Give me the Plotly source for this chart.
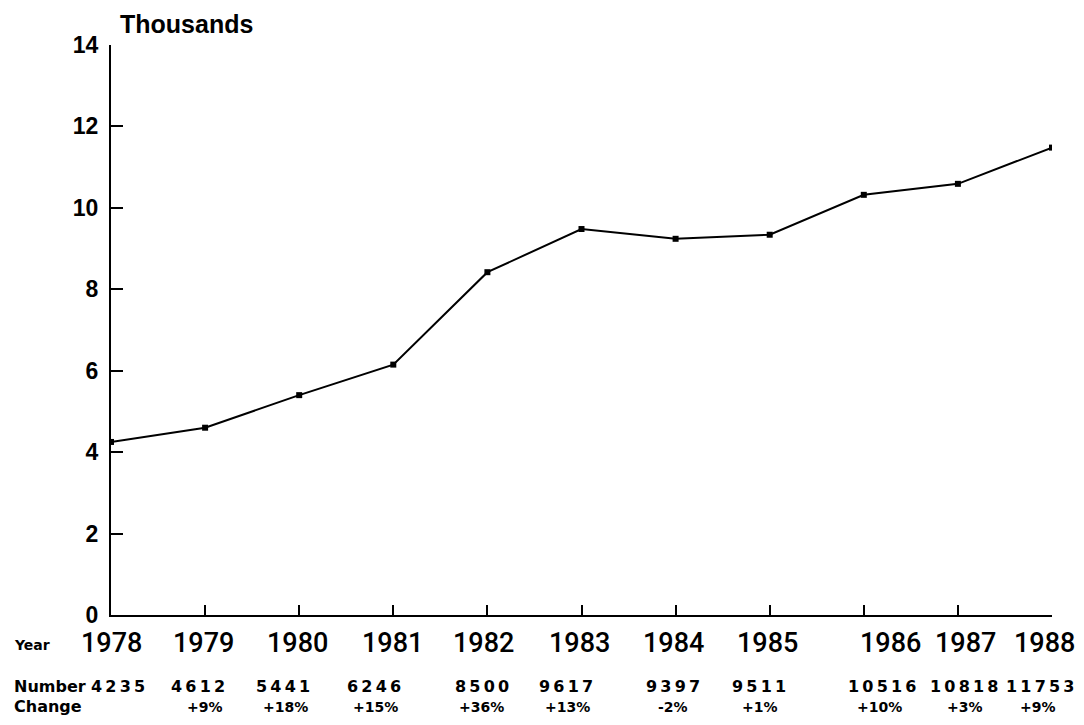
import plotly.graph_objects as go

# ---- data ----
years = [1978, 1979, 1980, 1981, 1982, 1983, 1984, 1985, 1986, 1987, 1988]
plotted_thousands = [4.25, 4.60, 5.40, 6.15, 8.42, 9.48, 9.24, 9.34, 10.32, 10.59, 11.48]
number_labels = ["4235", "4612", "5441", "6246", "8500", "9617", "9397", "9511", "10516", "10818", "11753"]
change_labels = ["", "+9%", "+18%", "+15%", "+36%", "+13%", "-2%", "+1%", "+10%", "+3%", "+9%"]
y_ticks = [0, 2, 4, 6, 8, 10, 12, 14]

# ---- layout: label centres (in axis units) as printed on the original ----
year_label_pos = [1978.0, 1978.98, 1979.98, 1980.99, 1981.96, 1982.98, 1983.98, 1984.98, 1986.28, 1987.08, 1987.92]
number_label_pos = [1978.07, 1978.92, 1979.83, 1980.80, 1981.94, 1982.84, 1983.97, 1984.89, 1986.19, 1987.06, 1987.87]
change_label_pos = [1978.07, 1979.00, 1979.85, 1980.81, 1981.94, 1982.85, 1983.97, 1984.90, 1986.17, 1987.08, 1987.85]

SANS = "Liberation Sans, Arial, sans-serif"
WIDE = "DejaVu Sans, Verdana, sans-serif"
THIN = "\u2009"

fig = go.Figure()
fig.add_trace(go.Scatter(
    x=years, y=plotted_thousands, mode="lines+markers",
    line=dict(color="black", width=2),
    marker=dict(symbol="square", size=6, color="black"),
    showlegend=False, hoverinfo="skip",
))

annotations = []
for yr, pos in zip(years, year_label_pos):
    annotations.append(dict(x=pos, y=-0.049, xref="x", yref="paper", text=str(yr),
                            showarrow=False, font=dict(family="Roboto, " + SANS, size=27, color="black", weight=500),
                            xanchor="center", yanchor="middle"))
for num, pos in zip(number_labels, number_label_pos):
    annotations.append(dict(x=pos, y=-0.1246, xref="x", yref="paper", text="<b>" + THIN.join(num) + "</b>",
                            showarrow=False, font=dict(family=WIDE, size=16, color="black"),
                            xanchor="center", yanchor="middle"))
for ch, pos in zip(change_labels, change_label_pos):
    if ch:
        annotations.append(dict(x=pos, y=-0.161, xref="x", yref="paper", text="<b>" + ch + "</b>",
                                showarrow=False, font=dict(family=WIDE, size=14, color="black"),
                                xanchor="center", yanchor="middle"))
for txt, yp, sz in [("Year", -0.053, 14), ("Number", -0.1246, 16), ("Change", -0.161, 16)]:
    annotations.append(dict(x=-0.105, y=yp, xref="paper", yref="paper", text="<b>" + txt + "</b>",
                            showarrow=False, font=dict(family=WIDE, size=sz, color="black"),
                            xanchor="left", yanchor="middle"))
annotations.append(dict(x=0.0074, y=1.037, xref="paper", yref="paper", text="<b>Thousands</b>",
                        showarrow=False, font=dict(family=SANS, size=25, color="black"),
                        xanchor="left", yanchor="middle"))

fig.update_layout(
    width=1076, height=717,
    margin=dict(l=103, r=32, t=37, b=110),
    paper_bgcolor="white", plot_bgcolor="white",
    annotations=annotations,
    xaxis=dict(range=[1978, 1988], tickmode="array", tickvals=years, showticklabels=False,
               ticks="inside", ticklen=10, tickcolor="black", tickwidth=1.5,
               showline=True, linecolor="black", linewidth=2, mirror=False,
               showgrid=False, zeroline=False, fixedrange=True),
    yaxis=dict(range=[0, 14], tickmode="array", tickvals=y_ticks,
               ticktext=["<b>%d</b>" % v for v in y_ticks], ticks="inside", ticklen=12,
               tickcolor="black", tickwidth=1.5, showline=True, linecolor="black",
               linewidth=2, showgrid=False, zeroline=False, ticklabelstandoff=6,
               tickfont=dict(family=SANS, size=23, color="black"), fixedrange=True),
)

fig.write_html("out.html")
